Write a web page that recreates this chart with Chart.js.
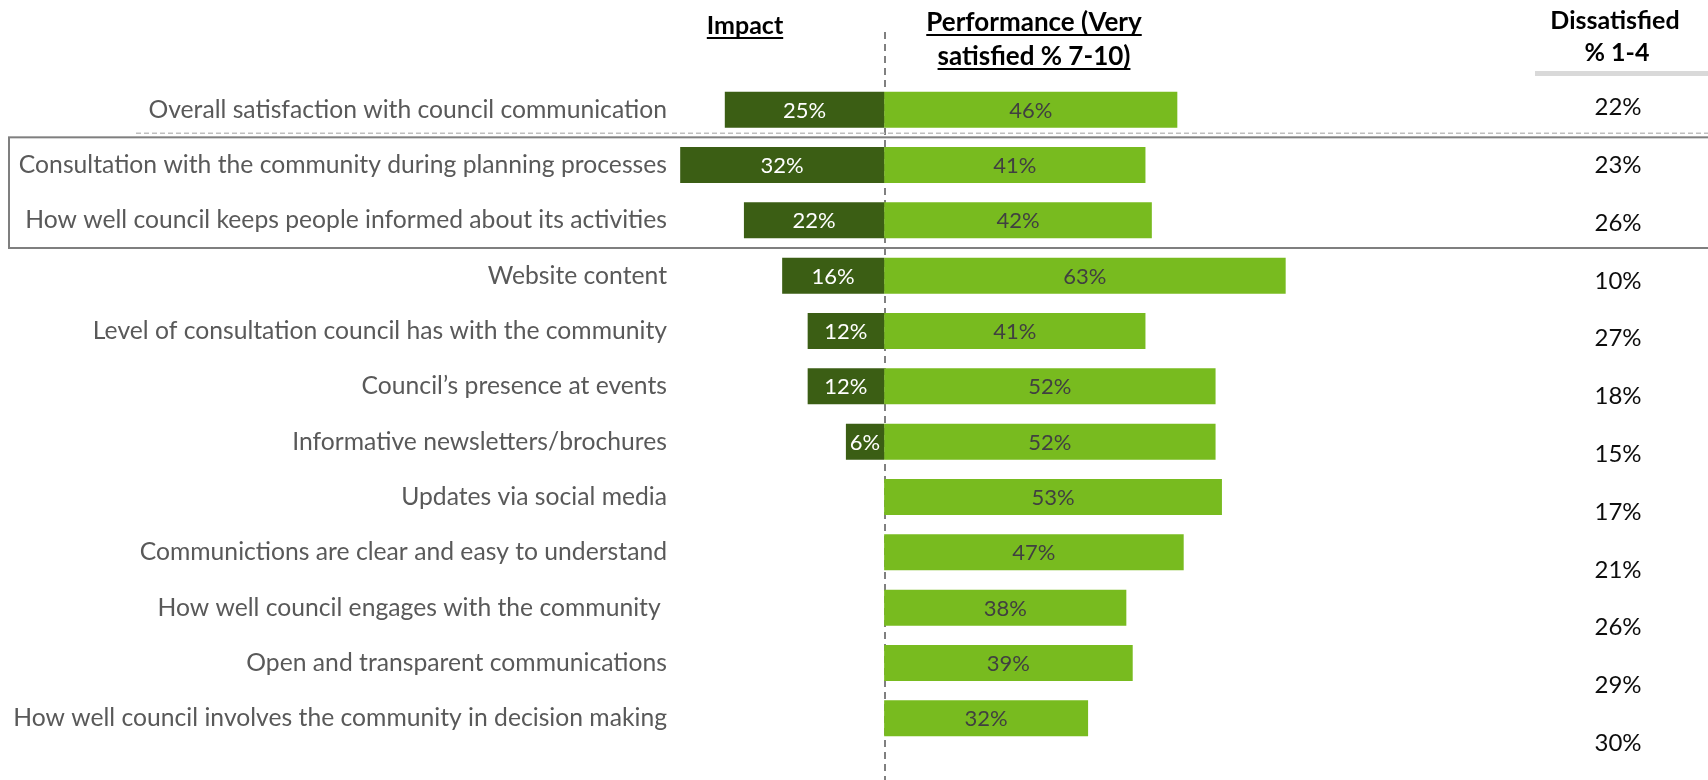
<!DOCTYPE html>
<html>
<head>
<meta charset="utf-8">
<script src="https://cdn.jsdelivr.net/npm/chart.js@4/dist/chart.umd.min.js"></script>
<style>
  html, body { margin: 0; padding: 0; background: #fff; }
</style>
</head>
<body>
<canvas id="chart" width="1708" height="780"></canvas>
<script>
const categories = [
  "Overall satisfaction with council communication",
  "Consultation with the community during planning processes",
  "How well council keeps people informed about its activities",
  "Website content",
  "Level of consultation council has with the community",
  "Council\u2019s presence at events",
  "Informative newsletters/brochures",
  "Updates via social media",
  "Communictions are clear and easy to understand",
  "How well council engages with the community ",
  "Open and transparent communications",
  "How well council involves the community in decision making",
];
const impact = [25, 32, 22, 16, 12, 12, 6, null, null, null, null, null];
const performance = [46, 41, 42, 63, 41, 52, 52, 53, 47, 38, 39, 32];
const dissatisfied = [22, 23, 26, 10, 27, 18, 15, 17, 21, 26, 29, 30];

const darkGreen = "#3b5e14";
const lightGreen = "#78bb1f";

// bar value labels, centred in each bar
const barLabels = {
  id: "barLabels",
  afterDatasetsDraw(chart) {
    const { ctx, scales } = chart;
    ctx.save();
    ctx.textAlign = "center";
    ctx.textBaseline = "middle";
    ctx.font = "22px Lato";
    impact.forEach((v, i) => {
      if (v == null) return;
      ctx.fillStyle = "#ffffff";
      ctx.fillText(v + "%", scales.x.getPixelForValue(-v / 2), scales.y.getPixelForValue(i) + 1);
    });
    performance.forEach((v, i) => {
      ctx.fillStyle = "#404040";
      ctx.fillText(v + "%", scales.x.getPixelForValue(v / 2), scales.y.getPixelForValue(i) + 1);
    });
    ctx.restore();
  },
};

// zero line, separator, box round the highlighted rows
const guides = {
  id: "guides",
  beforeDatasetsDraw(chart) {
    const { ctx, scales } = chart;
    const x0 = Math.round(scales.x.getPixelForValue(0)) + 1;
    const band = scales.y.getPixelForValue(1) - scales.y.getPixelForValue(0);
    ctx.save();
    ctx.strokeStyle = "#808080";
    ctx.lineWidth = 2;
    ctx.setLineDash([7, 5]);
    ctx.beginPath();
    ctx.moveTo(x0, 32);
    ctx.lineTo(x0, 780);
    ctx.stroke();

    const sepY = scales.y.getPixelForValue(0.5) - 4;
    ctx.strokeStyle = "#bfbfbf";
    ctx.lineWidth = 1.5;
    ctx.setLineDash([5, 3]);
    ctx.beginPath();
    ctx.moveTo(136, sepY);
    ctx.lineTo(1708, sepY);
    ctx.stroke();

    ctx.setLineDash([]);
    ctx.strokeStyle = "#7f7f7f";
    ctx.lineWidth = 2;
    const top = scales.y.getPixelForValue(1) - band / 2;
    const bottom = scales.y.getPixelForValue(2) + band / 2;
    ctx.strokeRect(9, top, 1720, bottom - top);
    ctx.restore();
  },
  afterDraw(chart) {
    const { ctx, scales } = chart;
    ctx.save();
    ctx.fillStyle = "#000000";
    ctx.textAlign = "center";
    ctx.textBaseline = "alphabetic";
    ctx.font = "bold 25px Lato";
    const underline = (text, cx, y) => {
      const w = ctx.measureText(text).width;
      ctx.fillText(text, cx, y);
      ctx.fillRect(cx - w / 2, y + 3, w, 2);
    };
    underline("Impact", 745, 34);
    ctx.font = "bold 26px Lato";
    underline("Performance (Very", 1034, 31);
    underline("satisfied % 7-10)", 1034, 65);
    ctx.font = "bold 25px Lato";
    ctx.fillText("Dissatisfied", 1615, 29);
    ctx.fillText("% 1-4", 1617, 61);
    ctx.fillStyle = "#d9d9d9";
    ctx.fillRect(1535, 71, 175, 5);

    // the Dissatisfied column runs on its own, slightly wider row spacing
    ctx.fillStyle = "#0d0d0d";
    ctx.font = "24px Lato";
    ctx.textBaseline = "middle";
    dissatisfied.forEach((v, i) => {
      ctx.fillText(v + "%", 1618, scales.y.getPixelForValue(i * 1.0445 - 0.04));
    });
    ctx.restore();
  },
};

new Chart(document.getElementById("chart"), {
  type: "bar",
  data: {
    labels: categories,
    datasets: [
      {
        label: "Impact",
        data: impact.map((v) => (v == null ? null : -v)),
        backgroundColor: darkGreen,
        categoryPercentage: 0.65,
        barPercentage: 1,
      },
      {
        label: "Performance",
        data: performance,
        backgroundColor: lightGreen,
        categoryPercentage: 0.65,
        barPercentage: 1,
      },
    ],
  },
  options: {
    indexAxis: "y",
    responsive: false,
    animation: false,
    layout: { padding: { left: 0, right: 212, top: 82, bottom: 34 } },
    plugins: { legend: { display: false }, tooltip: { enabled: false } },
    scales: {
      x: { type: "linear", min: -32.5, max: 96, stacked: true, display: false },
      y: {
        stacked: true,
        grid: { display: false, drawTicks: false },
        border: { display: false },
        ticks: {
          autoSkip: false,
          padding: 10,
          color: "#595959",
          font: { family: "Lato", size: 24.7 },
        },
        afterFit(scale) {
          scale.width = 677;
        },
      },
    },
  },
  plugins: [guides, barLabels],
});
</script>
</body>
</html>
